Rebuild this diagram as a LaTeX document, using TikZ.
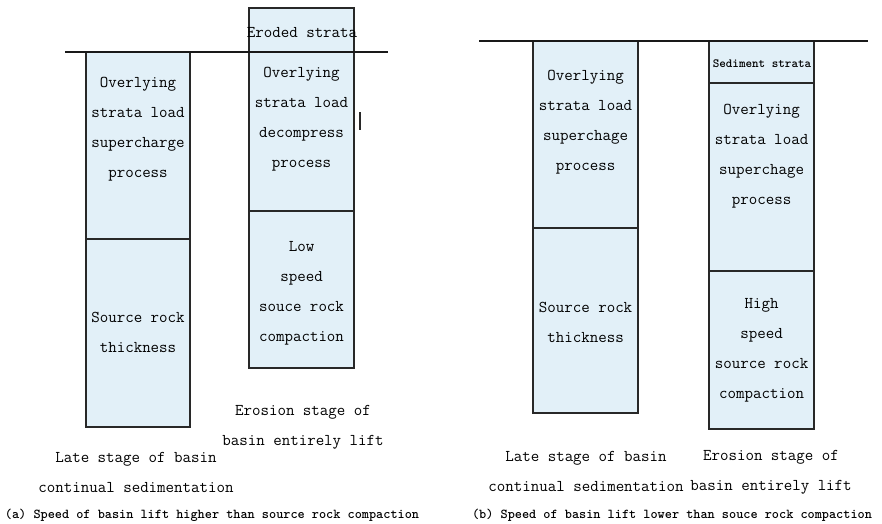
\documentclass[tikz,border=0pt]{standalone}
\usepackage{fontspec}
\definecolor{rockblue}{RGB}{226,240,248}
\definecolor{boxline}{RGB}{40,40,40}
\begin{document}
\begin{tikzpicture}[x=1pt,y=-1pt,
  layer/.style={draw=boxline, fill=rockblue, line width=1.6pt, inner sep=0pt},
  ground/.style={draw=black!90, line width=2.2pt},
  txt/.style={font=\ttfamily\fontsize{16.5}{30}\selectfont, align=center, inner sep=0pt, text=black},
  smalltxt/.style={font=\ttfamily\bfseries\fontsize{12.5}{14}\selectfont, inner sep=0pt, text=black},
  captxt/.style={font=\ttfamily\bfseries\fontsize{13.6}{16}\selectfont, inner sep=0pt, text=black}]
\useasboundingbox (0,0) rectangle (882,523);
% ---------- panel (a) ----------
\node[layer, minimum width=104pt, minimum height=187pt] (A1) at (138,145.5) {};
\node[layer, minimum width=104pt, minimum height=188pt] (A2) at (138,333) {};
\node[layer, minimum width=105pt, minimum height=44pt] (B0) at (301.5,30) {};
\node[layer, minimum width=105pt, minimum height=159pt] (B1) at (301.5,131.5) {};
\node[layer, minimum width=105pt, minimum height=157pt] (B2) at (301.5,289.5) {};
\coordinate (gaL) at (65,52);
\coordinate (gaR) at (388,52);
\draw[ground] (gaL) -- (gaR);
\coordinate (barT) at (360,112);
\coordinate (barB) at (360,130);
\draw[boxline, line width=1.2pt] (barT) -- (barB);
\node[txt] (tB0) at (302,33) {Eroded strata};
\node[txt] (tA1) at (138,129.5) {Overlying\\strata load\\supercharge\\process};
\node[txt] (tA2) at (138,332) {Source rock\\thickness};
\node[txt] (tB1) at (301.5,119) {Overlying\\strata load\\decompress\\process};
\node[txt] (tB2) at (301.5,293) {Low\\speed\\souce rock\\compaction};
\node[txt] (la1) at (136,472.5) {Late stage of basin\\continual sedimentation};
\node[txt] (la2) at (303,427.5) {Erosion stage of\\basin entirely lift};
\node[captxt] (capa) at (212,515) {(a) Speed of basin lift higher than source rock compaction};
% ---------- panel (b) ----------
\node[layer, minimum width=105pt, minimum height=187pt] (C1) at (585.5,134.5) {};
\node[layer, minimum width=105pt, minimum height=185pt] (C2) at (585.5,320.5) {};
\node[layer, minimum width=105pt, minimum height=42pt] (D0) at (761.5,62) {};
\node[layer, minimum width=105pt, minimum height=188pt] (D1) at (761.5,177) {};
\node[layer, minimum width=105pt, minimum height=158pt] (D2) at (761.5,350) {};
\coordinate (gbL) at (479,41);
\coordinate (gbR) at (868,41);
\draw[ground] (gbL) -- (gbR);
\node[smalltxt] (tD0) at (762,64) {Sediment strata};
\node[txt] (tC1) at (585.5,122) {Overlying\\strata load\\superchage\\process};
\node[txt] (tC2) at (585.5,322) {Source rock\\thickness};
\node[txt] (tD1) at (761.5,156.5) {Overlying\\strata load\\superchage\\process};
\node[txt] (tD2) at (761.5,350) {High\\speed\\source rock\\compaction};
\node[txt] (lb1) at (586,471) {Late stage of basin\\continual sedimentation};
\node[txt] (lb2) at (771,472.5) {Erosion stage of\\basin entirely lift};
\node[captxt] (capb) at (672,515) {(b) Speed of basin lift lower than souce rock compaction};
\end{tikzpicture}
\end{document}
